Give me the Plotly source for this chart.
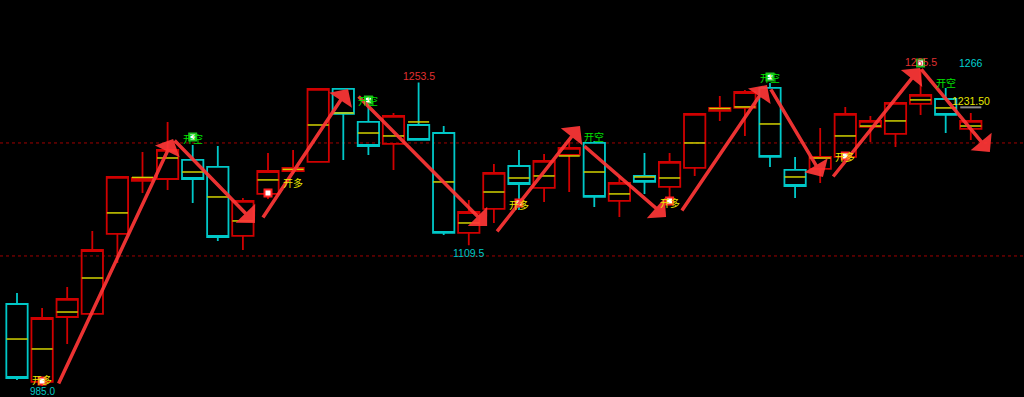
import plotly.graph_objects as go

# ---------------- data ----------------
bars = list(range(1, 40))
opens = [1057.5, 988.5, 1046.0, 1048.7, 1119.5, 1166.4, 1168.1, 1185.0, 1178.8, 1117.7,
         1154.9, 1175.2, 1183.2, 1247.8, 1218.6, 1199.1, 1215.9, 1208.8, 1120.4, 1141.6,
         1179.6, 1160.2, 1189.4, 1200.0, 1148.7, 1170.8, 1161.1, 1177.9, 1228.3, 1231.0,
         1248.7, 1176.1, 1177.0, 1187.6, 1214.2, 1208.0, 1234.5, 1238.9, 1212.4]
highs = [1067.3, 1054.0, 1072.6, 1122.1, 1170.8, 1192.0, 1218.6, 1198.2, 1197.3, 1151.3,
         1191.2, 1193.8, 1248.7, 1248.5, 1240.7, 1226.5, 1253.5, 1215.0, 1149.6, 1181.4,
         1193.8, 1190.3, 1202.7, 1201.8, 1170.8, 1191.2, 1191.2, 1226.0, 1241.6, 1246.9,
         1253.1, 1187.6, 1213.3, 1231.9, 1223.9, 1235.6, 1265.5, 1248.7, 1226.5]
lows = [990.3, 985.0, 1022.1, 1047.5, 1093.8, 1155.8, 1158.4, 1146.9, 1113.3, 1105.3,
        1150.4, 1172.5, 1183.0, 1185.0, 1189.4, 1176.1, 1202.0, 1118.6, 1109.5, 1129.2,
        1140.7, 1147.8, 1156.6, 1143.4, 1134.5, 1154.9, 1146.9, 1170.8, 1219.5, 1206.2,
        1178.8, 1151.3, 1164.6, 1187.4, 1200.9, 1196.5, 1224.8, 1208.8, 1202.7]
closes = [992.0, 1045.1, 1062.0, 1105.3, 1169.9, 1169.0, 1193.8, 1168.1, 1116.8, 1148.7,
          1175.2, 1177.9, 1247.8, 1225.7, 1197.3, 1223.9, 1202.7, 1120.4, 1138.9, 1173.5,
          1163.7, 1184.1, 1195.6, 1152.2, 1164.6, 1165.5, 1183.2, 1225.7, 1231.0, 1245.1,
          1187.6, 1161.9, 1187.6, 1225.7, 1219.5, 1235.4, 1242.5, 1224.8, 1219.5]
avgs = [1026.5, 1017.7, 1050.4, 1080.5, 1138.1, 1169.5, 1186.7, 1174.3, 1152.2, 1131.0,
        1167.3, 1176.6, 1215.9, 1226.5, 1208.8, 1206.2, 1218.6, 1165.5, 1129.2, 1156.6,
        1169.0, 1170.8, 1188.5, 1174.3, 1154.9, 1169.9, 1169.0, 1200.0, 1230.5, 1231.9,
        1216.8, 1169.9, 1186.7, 1206.2, 1215.0, 1219.5, 1238.1, 1231.0, 1215.0]

ref_levels = [1200, 1100]

# trading signals
sig_bar = [2, 8, 11, 15, 21, 24, 27, 31, 34, 38]
sig_price = [989.4, 1205.3, 1155.8, 1238.1, 1146.9, 1205.3, 1148.7, 1258.4, 1188.5, 1253.1]
sig_text = ['开多', '开空', '开多', '开空', '开多', '开空', '开多', '开空', '开多', '开空']

dot_bar = [2, 8, 11, 15, 21, 27, 31, 34, 37]
dot_price = [989.4, 1205.3, 1155.8, 1238.1, 1146.9, 1148.7, 1258.4, 1188.5, 1270.8]
dot_kind = ['多', '空', '多', '空', '多', '多', '空', '多', '空']

# swing arrows (tail -> head)
arrow_from_bar = [2.63, 7.22, 10.76, 14.55, 20.08, 23.55, 27.45, 31.0, 33.47, 36.98]
arrow_from_price = [985.8, 1203.5, 1132.7, 1242.5, 1120.4, 1198.2, 1138.9, 1248.7, 1169.0, 1266.4]
arrow_to_bar = [7.22, 10.48, 14.19, 19.73, 23.43, 26.86, 30.88, 33.11, 36.98, 39.76]
arrow_to_price = [1203.5, 1129.2, 1247.8, 1126.5, 1215.0, 1134.5, 1251.3, 1169.9, 1266.4, 1192.0]

# extreme price labels
ext_bar = [2, 17, 19, 37]
ext_val = [985.0, 1253.5, 1109.5, 1265.5]
ext_kind = ['low', 'high', 'low', 'high']

last_bar = 39
last_price = 1231.50
top_price = 1266

# ---------------- style ----------------
RED = '#d00000'
CYAN = '#00c8c8'
YELLOW = '#d2d200'
ARROW = 'rgba(255,55,55,0.92)'
HW = 0.42

fig = go.Figure()

fig.add_trace(go.Candlestick(
    x=bars, open=opens, high=highs, low=lows, close=closes,
    increasing=dict(line=dict(color=RED, width=1.8), fillcolor='rgba(0,0,0,0)'),
    decreasing=dict(line=dict(color=CYAN, width=1.8), fillcolor='rgba(0,0,0,0)'),
    whiskerwidth=0, hoverinfo='skip'))

# average price line inside each bar
ax_, ay_ = [], []
for b, a in zip(bars, avgs):
    ax_ += [b - HW, b + HW, None]
    ay_ += [a, a, None]
fig.add_trace(go.Scatter(x=ax_, y=ay_, mode='lines',
                         line=dict(color=YELLOW, width=1.5), hoverinfo='skip'))

# last price marker line
fig.add_trace(go.Scatter(x=[last_bar - HW, last_bar + HW], y=[last_price, last_price],
                         mode='lines', line=dict(color='#8a8a8a', width=2), hoverinfo='skip'))

# signal dots
for kind, col in (('多', '#ff2020'), ('空', '#20c020')):
    xs = [b for b, k in zip(dot_bar, dot_kind) if k == kind]
    ys = [p for p, k in zip(dot_price, dot_kind) if k == kind]
    fig.add_trace(go.Scatter(x=xs, y=ys, mode='markers', hoverinfo='skip',
                             marker=dict(symbol='square', size=7, color='white',
                                         line=dict(color=col, width=2))))

shapes = []
for lv in ref_levels:
    shapes.append(dict(type='line', xref='paper', x0=0, x1=1, yref='y', y0=lv, y1=lv,
                       line=dict(color='#a00000', width=1, dash='dot'), layer='below'))

annotations = []
for x0, y0, x1, y1 in zip(arrow_from_bar, arrow_from_price, arrow_to_bar, arrow_to_price):
    annotations.append(dict(x=x1, y=y1, ax=x0, ay=y0, xref='x', yref='y', axref='x', ayref='y',
                            text='', showarrow=True, arrowhead=1, arrowsize=1.3,
                            arrowwidth=3.5, arrowcolor=ARROW, standoff=0))

sig_shift = [(0, 1), (0, -2), (25, 10), (0, -1), (0, -2), (0, 0), (0, -2), (0, -1), (0, -1), (0, 0)]
for b, p, t, (dx, dy) in zip(sig_bar, sig_price, sig_text, sig_shift):
    annotations.append(dict(x=b, y=p, xref='x', yref='y', text=t, showarrow=False,
                            xshift=dx, yshift=dy,
                            font=dict(family='Noto Sans CJK SC', size=10,
                                      color='#e6e600' if t == '开多' else '#00e000')))

for b, v, k in zip(ext_bar, ext_val, ext_kind):
    annotations.append(dict(x=b, y=v, xref='x', yref='y', text=f'{v:.1f}', showarrow=False,
                            yshift=(-6 if v < 1000 else -8) if k == 'low' else 7,
                            font=dict(family='Liberation Sans', size=10 if v < 1000 else 10.5,
                                      color=CYAN if k == 'low' else '#e03030')))

annotations.append(dict(x=last_bar, y=top_price, xref='x', yref='y', text=str(top_price),
                        showarrow=False, yshift=5,
                        font=dict(family='Liberation Sans', size=10.5, color='#00d0d0')))
annotations.append(dict(x=last_bar, y=last_price, xref='x', yref='y', text=f'{last_price:.2f}',
                        showarrow=False, yshift=6,
                        font=dict(family='Liberation Sans', size=10.5, color='#e6e600')))

fig.update_layout(
    width=1024, height=397, margin=dict(l=0, r=0, t=0, b=0),
    paper_bgcolor='black', plot_bgcolor='black', showlegend=False,
    boxgap=0.15, boxgroupgap=0,
    xaxis=dict(range=[0.3227, 41.12], visible=False, rangeslider=dict(visible=False)),
    yaxis=dict(range=[975.2, 1326.5], visible=False),
    shapes=shapes, annotations=annotations)

fig.write_html('out.html')
